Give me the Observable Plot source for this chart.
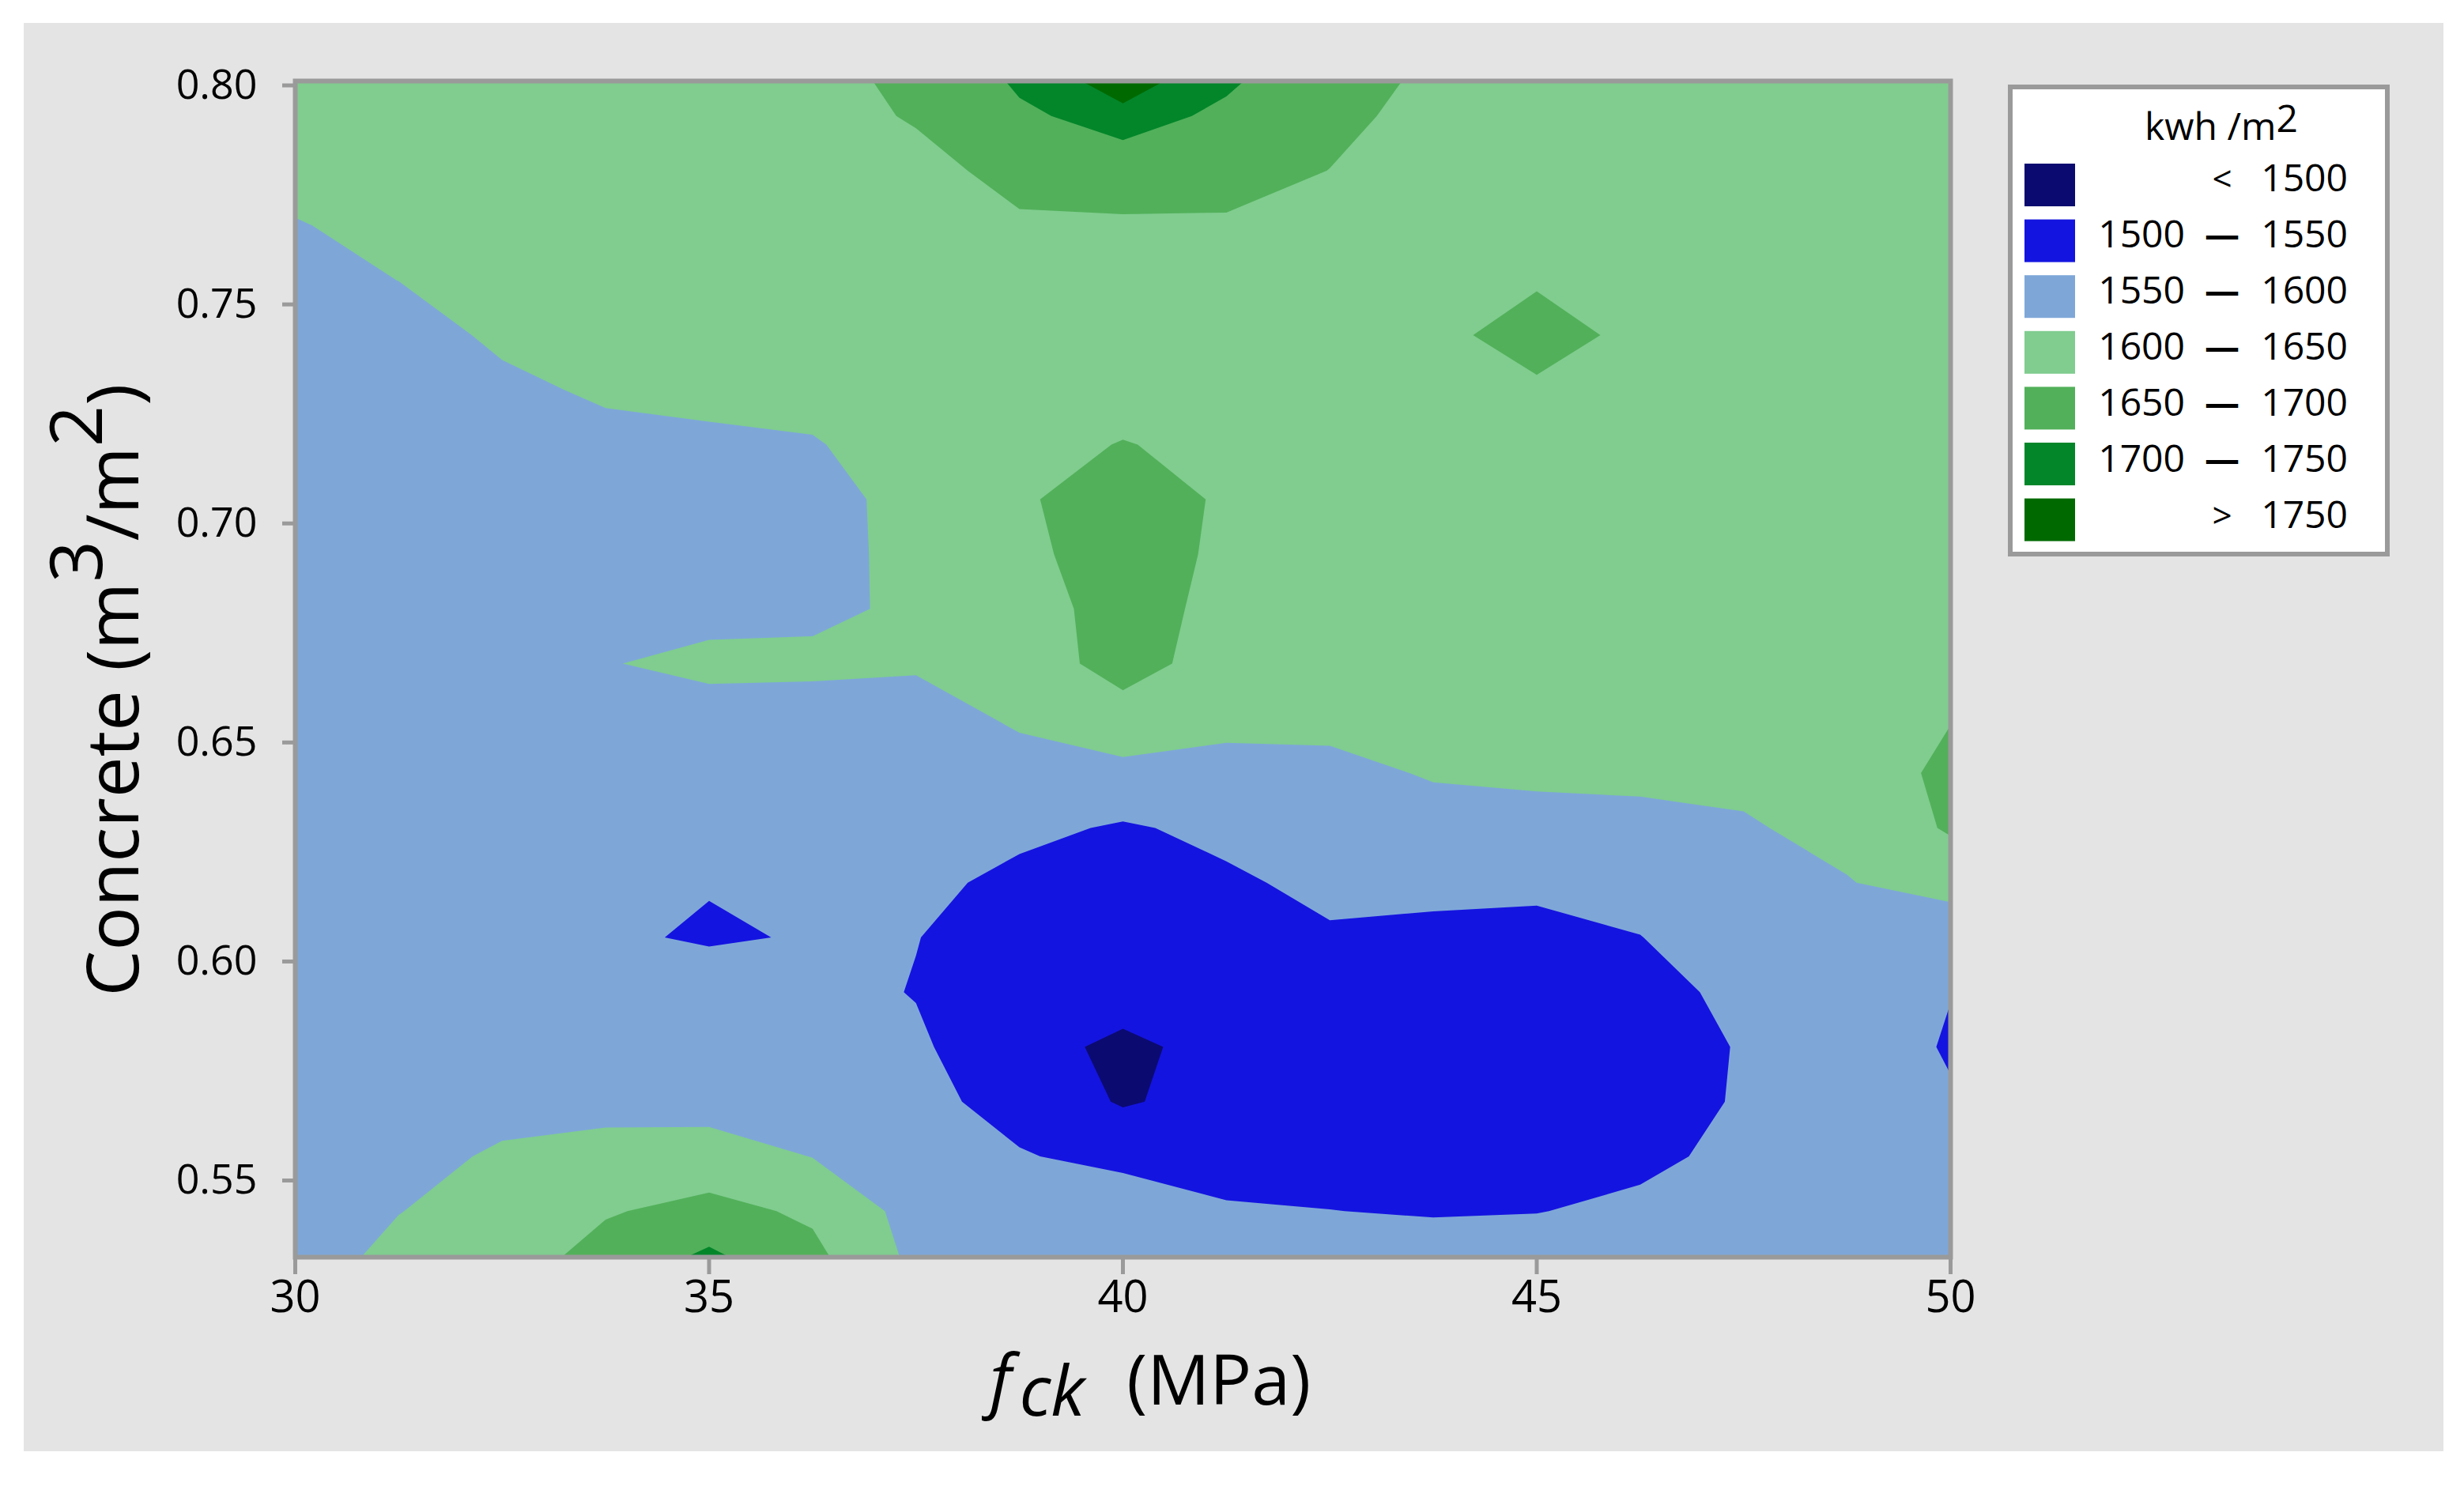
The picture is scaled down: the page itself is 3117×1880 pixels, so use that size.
<!DOCTYPE html>
<html>
<head>
<meta charset="utf-8">
<script src="https://cdn.jsdelivr.net/npm/d3@7"></script>
<script src="https://cdn.jsdelivr.net/npm/@observablehq/plot@0.6"></script>
<style>
  html, body { margin: 0; padding: 0; background: #ffffff; }
  #panel { position: absolute; left: 30px; top: 29px; width: 3061px; height: 1807px; background: #e4e4e4; }
  #chart { position: absolute; left: 0; top: 0; }
</style>
</head>
<body>
<div id="panel"></div>
<div id="chart"></div>
<script>
// f_ck grid (MPa), columns
const fck = [30, 31.25, 32.5, 33.75, 35, 36.25, 37.5, 38.75, 40, 41.25, 42.5, 43.75, 45, 46.25, 47.5, 48.75, 50];
// Concrete grid (m3/m2), rows from top to bottom
const concrete = [0.8055, 0.793, 0.7805, 0.768, 0.7555, 0.743, 0.7305, 0.718, 0.7055, 0.693, 0.6805, 0.668,
                  0.6555, 0.643, 0.6305, 0.618, 0.6055, 0.593, 0.5805, 0.568, 0.5555, 0.543, 0.5305];
// Energy (kwh/m2), one row per concrete value (top to bottom), one column per f_ck
const energy = [
  [1627, 1630, 1633, 1635, 1637, 1640, 1662, 1716, 1855, 1716, 1675, 1645, 1636, 1634, 1630, 1630, 1630],
  [1620, 1625, 1628, 1630, 1632, 1633, 1654, 1692, 1718, 1691, 1660, 1638, 1634, 1632, 1630, 1630, 1630],
  [1612, 1618, 1623, 1625, 1627, 1628, 1636, 1664, 1677, 1666, 1649.5, 1636, 1634, 1632, 1630, 1630, 1630],
  [1598, 1610, 1617, 1620, 1622, 1623, 1628, 1644, 1643, 1645, 1640, 1636, 1638, 1634, 1630, 1630, 1630],
  [1590, 1600.2, 1611, 1614, 1617, 1618, 1623, 1638, 1638, 1640, 1635, 1640, 1648, 1640, 1632, 1630, 1630],
  [1585, 1588, 1605, 1609, 1612, 1614, 1619, 1636, 1636, 1638, 1633, 1645, 1658, 1645, 1634, 1630, 1630],
  [1582, 1583, 1594, 1604, 1607, 1609, 1616, 1638, 1640, 1640, 1632, 1642, 1647, 1641, 1633, 1630, 1630],
  [1580, 1581, 1588, 1592, 1595, 1598, 1613, 1642, 1651, 1644, 1632, 1636, 1638, 1636, 1630, 1628, 1630],
  [1579, 1580, 1585, 1589, 1592, 1588, 1611, 1647, 1662, 1647, 1632, 1632, 1632, 1632, 1628, 1627, 1630],
  [1579, 1580, 1584, 1590, 1591, 1588, 1610, 1642, 1666, 1644, 1630, 1630, 1628, 1628, 1626, 1626, 1632],
  [1580, 1581, 1585, 1594, 1587, 1590, 1608, 1630, 1668, 1638, 1627, 1627, 1625, 1625, 1624, 1625, 1635],
  [1581, 1582, 1586, 1598, 1610, 1610, 1604, 1622, 1670, 1628, 1620, 1622, 1620, 1620, 1620, 1622, 1640],
  [1579, 1580, 1583, 1592, 1583, 1579, 1585, 1605, 1629, 1612, 1610, 1615, 1612, 1613, 1614, 1620, 1648],
  [1577, 1578, 1580, 1585, 1575, 1574, 1578, 1586, 1588, 1585, 1590, 1603, 1606, 1606, 1607, 1615, 1664],
  [1575, 1576, 1577, 1580, 1568, 1568, 1570, 1561, 1545, 1561, 1576.5, 1585, 1588, 1592, 1597, 1609, 1656],
  [1573, 1574, 1575, 1576, 1553, 1562, 1562, 1538, 1535, 1543, 1561, 1561, 1560.5, 1569.5, 1588, 1598.5, 1615],
  [1572, 1573, 1575, 1558, 1544, 1554, 1551, 1530, 1524, 1535, 1545, 1540, 1535.5, 1549, 1580, 1588, 1573],
  [1572, 1573, 1577, 1576, 1580, 1565, 1548, 1522, 1514, 1525, 1535, 1532, 1528, 1535, 1561, 1580, 1551],
  [1573, 1575, 1582, 1582, 1578, 1575, 1558, 1512, 1493, 1511, 1528, 1528, 1525, 1530, 1553, 1575, 1546],
  [1575, 1580, 1590, 1591, 1582, 1585, 1566, 1530, 1496, 1515, 1528, 1528, 1525, 1532, 1554, 1575, 1554],
  [1578, 1590, 1604, 1610, 1621, 1599, 1574, 1554, 1534, 1530, 1535, 1532, 1530, 1542, 1559, 1576, 1565],
  [1580, 1599, 1618, 1646, 1665, 1642, 1582, 1566, 1587, 1555, 1550.5, 1547, 1549, 1557.5, 1568, 1578, 1572],
  [1582, 1614, 1630, 1672, 1719, 1667, 1590, 1575, 1595, 1575, 1565, 1573, 1572, 1570, 1575, 1580, 1578]
];
// Contour bands
const thresholds = [1500, 1550, 1600, 1650, 1700, 1750];
const bandColors = ["#0b0a70", "#1414e0", "#7ea7d8", "#80cd8f", "#52b05a", "#03862a", "#006a00"];
// Legend texts
const legendFrom = ["", "1500", "1550", "1600", "1650", "1700", ""];
const legendSign = ["<", "\u2014", "\u2014", "\u2014", "\u2014", "\u2014", ">"];
const legendTo = ["1500", "1550", "1600", "1650", "1700", "1750", "1750"];
// Axis ticks
const xTicks = [30, 35, 40, 45, 50];
const yTicks = [0.55, 0.60, 0.65, 0.70, 0.75, 0.80];

const FONT = "'Open Sans', 'Noto Sans', sans-serif";
const nx = fck.length, ny = concrete.length;
const dx = fck[1] - fck[0];
const dy = concrete[0] - concrete[1];
const grid = energy.slice().reverse().flat(); // first row = lowest concrete value

const chart = Plot.plot({
  width: 3117,
  height: 1880,
  marginLeft: 373,
  marginRight: 650,
  marginTop: 102,
  marginBottom: 290,
  style: { background: "transparent", fontFamily: FONT, color: "black", overflow: "visible" },
  x: { domain: [30, 50] },
  y: { domain: [0.5325, 0.801] },
  color: { type: "threshold", domain: thresholds, range: bandColors },
  marks: [
    Plot.frame({ fill: bandColors[0] }),
    Plot.contour(grid, {
      width: nx,
      height: ny,
      x1: fck[0] - dx / 2,
      x2: fck[nx - 1] + dx / 2,
      y1: concrete[ny - 1] - dy / 2,
      y2: concrete[0] + dy / 2,
      fill: Plot.identity,
      thresholds: [1400, ...thresholds],
      clip: true
    }),
    Plot.frame({ stroke: "#9a9a9a", strokeWidth: 6 }),
    Plot.axisX({ ticks: xTicks, tickFormat: d3.format("d"), tickSize: 22, tickPadding: 8,
                 color: "black", stroke: "#9a9a9a", strokeWidth: 5, fontSize: 56, label: null }),
    Plot.axisY({ ticks: yTicks, tickFormat: d3.format(".2f"), tickSize: 16, tickPadding: 32,
                 color: "black", stroke: "#9a9a9a", strokeWidth: 5, fontSize: 52, label: null })
  ]
});

const svg = d3.select(chart);

// Y axis title with superscripts
const yt = svg.append("text")
  .attr("transform", "translate(175,873) rotate(-90)")
  .attr("text-anchor", "middle")
  .attr("font-family", FONT)
  .attr("font-size", 92)
  .attr("fill", "black");
yt.append("tspan").text("Concrete (m");
yt.append("tspan").attr("dy", "-0.5em").text("3");
yt.append("tspan").attr("dy", "0.5em").text("/m");
yt.append("tspan").attr("dy", "-0.5em").text("2");
yt.append("tspan").attr("dy", "0.5em").text(")");

// X axis title: f_ck (MPa)
const xt = svg.append("text")
  .attr("x", 1252)
  .attr("y", 1777)
  .attr("text-anchor", "start")
  .attr("font-family", FONT)
  .attr("font-size", 88)
  .attr("fill", "black");
xt.append("tspan").attr("font-style", "italic").text("f");
xt.append("tspan").attr("font-style", "italic").attr("dx", 10).attr("dy", 14).text("ck");
xt.append("tspan").attr("dx", 30).attr("dy", -14).text(" (MPa)");

// Legend
const lg = svg.append("g").attr("font-family", FONT).attr("fill", "black");
lg.append("rect")
  .attr("x", 2543).attr("y", 110).attr("width", 477).attr("height", 591)
  .attr("fill", "white").attr("stroke", "#9a9a9a").attr("stroke-width", 6);
const lt = lg.append("text").attr("x", 2810).attr("y", 177).attr("text-anchor", "middle").attr("font-size", 48);
lt.append("tspan").text("kwh /m");
lt.append("tspan").attr("dy", -10).text("2");
bandColors.forEach((c, i) => {
  const top = 207 + i * 70.6;
  const base = 242 + i * 71;
  lg.append("rect").attr("x", 2561).attr("y", top).attr("width", 64).attr("height", 54).attr("fill", c);
  if (legendFrom[i]) lg.append("text").attr("x", 2764).attr("y", base).attr("text-anchor", "end").attr("font-size", 48).text(legendFrom[i]);
  lg.append("text").attr("x", 2811).attr("y", base).attr("text-anchor", "middle")
    .attr("font-size", 44)
    .attr("font-weight", legendSign[i] === "\u2014" ? 700 : 400)
    .text(legendSign[i]);
  lg.append("text").attr("x", 2970).attr("y", base).attr("text-anchor", "end").attr("font-size", 48).text(legendTo[i]);
});

document.getElementById("chart").appendChild(chart);
</script>
</body>
</html>
